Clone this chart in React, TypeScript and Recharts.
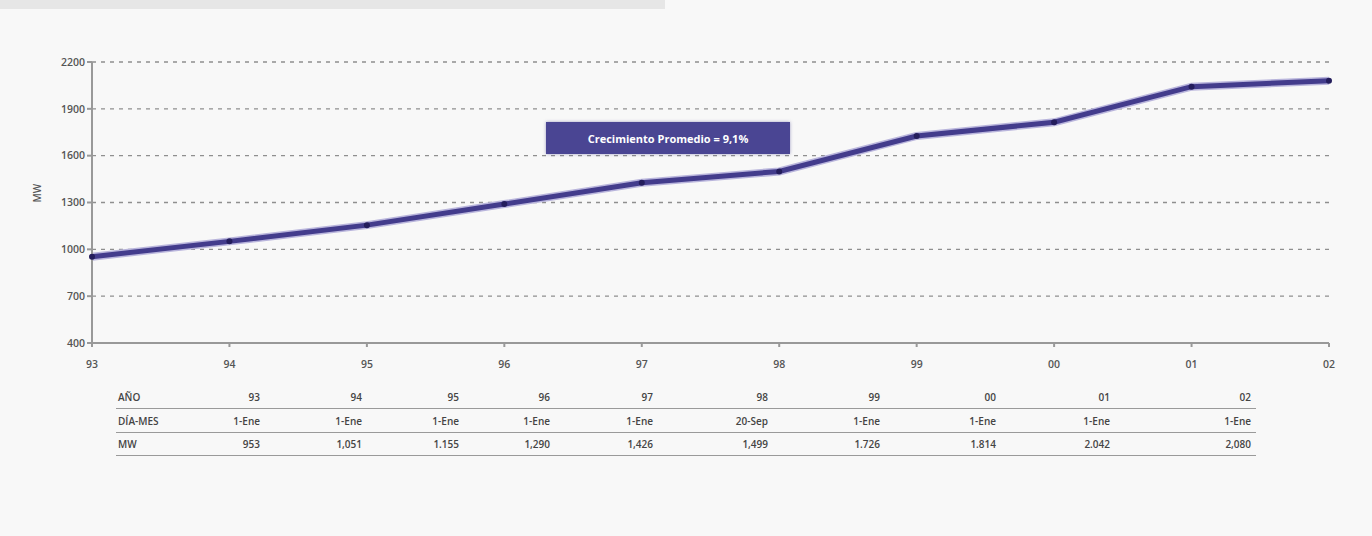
import React from 'react';
import { LineChart, Line, XAxis, YAxis, CartesianGrid, Label } from 'recharts';

const years = ['93', '94', '95', '96', '97', '98', '99', '00', '01', '02'];
const dayMonth = ['1-Ene', '1-Ene', '1-Ene', '1-Ene', '1-Ene', '20-Sep', '1-Ene', '1-Ene', '1-Ene', '1-Ene'];
const mwValues = [953, 1051, 1155, 1290, 1426, 1499, 1726, 1814, 2042, 2080];
const mwLabels = ['953', '1,051', '1.155', '1,290', '1,426', '1,499', '1.726', '1.814', '2.042', '2,080'];
const yTicks = [400, 700, 1000, 1300, 1600, 1900, 2200];
const annotation = 'Crecimiento Promedio = 9,1%';
const rowLabels = ['AÑO', 'DÍA-MES', 'MW'];

const data = years.map((y, i) => ({ year: y, mw: mwValues[i] }));

// layout (pixels) for the table below the chart
const colRight = [260, 362, 459, 550, 653, 768, 880, 996, 1110, 1251];
const rowY = [390, 414, 437];

const font = '"Open Sans", "Noto Sans", sans-serif';

export default function App() {
  const rows = [years, dayMonth, mwLabels];
  return (
    <div style={{ position: 'absolute', left: 0, top: 0, width: 1372, height: 536, background: '#f8f8f8', overflow: 'hidden', fontFamily: font }}>
      <div style={{ position: 'absolute', left: 0, top: 0, width: 665, height: 9, background: '#e6e6e6' }} />
      <LineChart width={1372} height={536} data={data} margin={{ top: 62, right: 43, bottom: 163, left: 32 }}>
        <CartesianGrid vertical={false} stroke="#8f8f8f" strokeDasharray="4 5" strokeWidth={1.4} />
        <XAxis
          dataKey="year"
          stroke="#999"
          strokeWidth={2}
          tickSize={4}
          tickMargin={14}
          tick={{ fill: '#555', fontSize: 10.5, fontFamily: font, fontWeight: 600 }}
          height={30}
        />
        <YAxis
          domain={[400, 2200]}
          ticks={yTicks}
          width={60}
          stroke="#999"
          strokeWidth={2}
          tickSize={5}
          tickMargin={2}
          allowDataOverflow
          tick={{ fill: '#555', fontSize: 10.5, fontFamily: font, fontWeight: 600 }}
        >
          <Label value="MW" angle={-90} position="insideLeft" offset={5} style={{ fill: '#555', fontSize: 10, fontFamily: font, fontWeight: 600 }} />
        </YAxis>
        <Line type="linear" dataKey="mw" stroke="#b9b5dc" strokeWidth={8} dot={false} isAnimationActive={false} />
        <Line
          type="linear"
          dataKey="mw"
          stroke="#433c8c"
          strokeWidth={5}
          dot={{ r: 3, fill: '#241d5c', stroke: 'none' }}
          isAnimationActive={false}
        />
      </LineChart>
      <div
        style={{
          position: 'absolute', left: 546, top: 122, width: 244, height: 32, background: '#4a4593',
          color: '#fff', fontSize: 11, fontWeight: 700, display: 'flex', alignItems: 'center', justifyContent: 'center',
          boxShadow: '0 0 3px rgba(74,69,147,0.5)',
        }}
      >
        {annotation}
      </div>
      {rowLabels.map((lab, r) => (
        <div key={'l' + r} style={{ position: 'absolute', left: 118, top: rowY[r], fontSize: 10, color: '#444', fontWeight: 600, lineHeight: '14px' }}>
          {lab}
        </div>
      ))}
      {rows.map((row, r) =>
        row.map((v, c) => (
          <div
            key={r + '-' + c}
            style={{ position: 'absolute', left: colRight[c] - 80, width: 80, top: rowY[r], textAlign: 'right', fontSize: 10, color: '#444', fontWeight: 600, lineHeight: '14px' }}
          >
            {v}
          </div>
        ))
      )}
      {[408, 432, 455].map((y) => (
        <div key={y} style={{ position: 'absolute', left: 116, width: 1140, top: y, height: 1, background: '#9a9a9a' }} />
      ))}
    </div>
  );
}
